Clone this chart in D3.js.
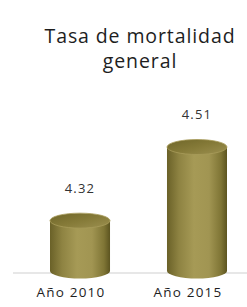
<!DOCTYPE html>
<html>
<head>
<meta charset="utf-8">
<script src="https://cdn.jsdelivr.net/npm/d3@7"></script>
<style>
body { margin: 0; background: #fff; }
</style>
</head>
<body>
<script>
const svgWidth = 247
const svgHeight = 307

const titleLines = ["Tasa de mortalidad", "general"]
const categories = ["Año 2010", "Año 2015"]
const values = [4.32, 4.51]
const valueLabels = ["4.32", "4.51"]

const baseY = 271
const ry = 7.5

const svg = d3.select("body").append("svg")
    .attr("width", svgWidth)
    .attr("height", svgHeight)

const defs = svg.append("defs")

const bodyGrad = defs.append("linearGradient")
    .attr("id", "bodyGrad")
    .attr("x1", "0").attr("x2", "1").attr("y1", "0").attr("y2", "0")
bodyGrad.selectAll("stop")
    .data([[0, "#6a6128"], [0.2, "#8e8342"], [0.45, "#a69a56"], [0.7, "#a19552"], [0.9, "#7f7535"], [1, "#5c5420"]])
    .join("stop")
    .attr("offset", d => d[0])
    .attr("stop-color", d => d[1])

const topGrad = defs.append("linearGradient")
    .attr("id", "topGrad")
    .attr("x1", "0").attr("x2", "1").attr("y1", "0").attr("y2", "1")
topGrad.selectAll("stop")
    .data([[0, "#6f6629"], [0.5, "#857a38"], [1, "#9c9050"]])
    .join("stop")
    .attr("offset", d => d[0])
    .attr("stop-color", d => d[1])

const x = d3.scaleBand()
    .domain(categories)
    .range([50, 227])
    .paddingInner(0.487)
    .paddingOuter(0)

const y = d3.scaleLinear()
    .domain([4.19, 4.51])
    .range([baseY, 147])

// title
svg.append("text")
    .attr("x", 140)
    .attr("y", 43)
    .attr("text-anchor", "middle")
    .style("font-family", "'Open Sans', sans-serif")
    .style("font-size", "19.5px")
    .style("letter-spacing", "0.9px")
    .style("fill", "#1e1e1e")
    .selectAll("tspan")
    .data(titleLines)
    .join("tspan")
    .attr("x", 140)
    .attr("dy", (d, i) => i === 0 ? 0 : 25)
    .text(d => d)

// baseline
svg.append("line")
    .attr("x1", 13)
    .attr("x2", svgWidth)
    .attr("y1", baseY + 2)
    .attr("y2", baseY + 2)
    .attr("stroke", "#cfcfcf")
    .attr("stroke-width", 1.2)

const bars = svg.selectAll("g.bar")
    .data(categories.map((c, i) => ({ cat: c, value: values[i], label: valueLabels[i] })))
    .join("g")
    .attr("class", "bar")

bars.append("ellipse")
    .attr("cx", d => x(d.cat) + x.bandwidth() / 2)
    .attr("cy", baseY)
    .attr("rx", x.bandwidth() / 2)
    .attr("ry", ry)
    .attr("fill", "url(#bodyGrad)")

bars.append("rect")
    .attr("x", d => x(d.cat))
    .attr("y", d => y(d.value))
    .attr("width", x.bandwidth())
    .attr("height", d => baseY - y(d.value))
    .attr("fill", "url(#bodyGrad)")

bars.append("ellipse")
    .attr("cx", d => x(d.cat) + x.bandwidth() / 2)
    .attr("cy", d => y(d.value))
    .attr("rx", x.bandwidth() / 2)
    .attr("ry", ry)
    .attr("fill", "url(#topGrad)")
    .attr("stroke", "#a89c5a")
    .attr("stroke-width", 0.8)

bars.append("text")
    .attr("x", d => x(d.cat) + x.bandwidth() / 2)
    .attr("y", d => y(d.value) - 28)
    .attr("text-anchor", "middle")
    .style("font-family", "'Open Sans', sans-serif")
    .style("font-size", "13px")
    .style("letter-spacing", "1.2px")
    .style("fill", "#333")
    .text(d => d.label)

// category labels
bars.append("text")
    .attr("x", d => x(d.cat) + x.bandwidth() / 2 - 9)
    .attr("y", 297)
    .attr("text-anchor", "middle")
    .style("font-family", "'Open Sans', sans-serif")
    .style("font-size", "13.5px")
    .style("font-weight", "500")
    .style("letter-spacing", "1.2px")
    .style("fill", "#1e1e1e")
    .text(d => d.cat)
</script>
</body>
</html>
